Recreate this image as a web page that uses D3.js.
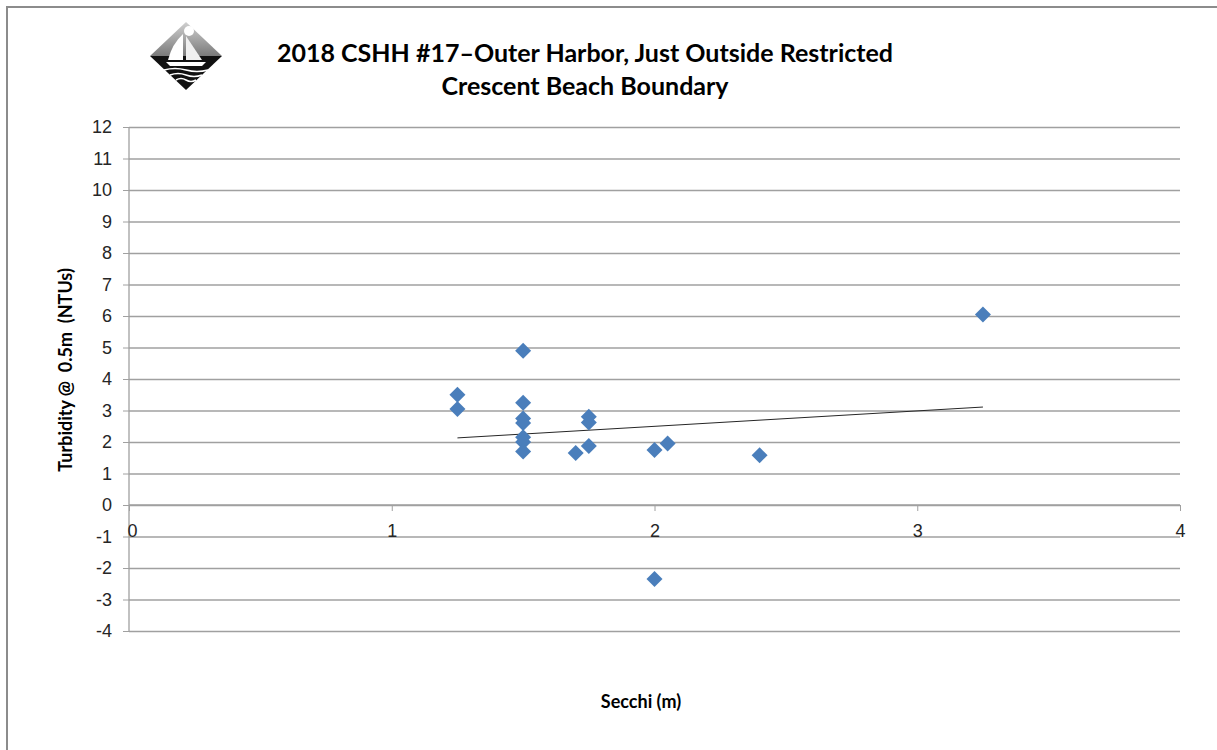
<!DOCTYPE html>
<html>
<head>
<meta charset="utf-8">
<script src="https://cdn.jsdelivr.net/npm/d3@7"></script>
<style>
  body { margin: 0; background: #fff; }
  svg { display: block; font-family: Lato, "Open Sans", sans-serif; }
</style>
</head>
<body>
<div id="chart"></div>
<script>
// secchi depth (m) and turbidity (NTU) readings
var secchi    = [1.25, 1.25, 1.5, 1.5, 1.5, 1.5, 1.5, 1.5, 1.5, 1.7, 1.75, 1.75, 1.75, 2.0, 2.05, 2.0, 2.4, 3.25];
var turbidity = [3.5, 3.05, 4.9, 3.25, 2.75, 2.6, 2.15, 2.0, 1.7, 1.65, 2.8, 2.62, 1.87, 1.75, 1.95, -2.35, 1.58, 6.05];
// linear trendline end points as drawn in the picture
var trendX = [1.25, 3.25];
var trendY = [2.13, 3.11];
var xTicks = [0, 1, 2, 3, 4];
var yTicks = [-4, -3, -2, -1, 0, 1, 2, 3, 4, 5, 6, 7, 8, 9, 10, 11, 12];
var titleLines = ["2018 CSHH #17\u2013Outer Harbor, Just Outside Restricted", "Crescent Beach Boundary"];

var w = 1217, h = 750;
var marginLeft = 129, marginTop = 127, plotW = 1180 - 129, plotH = 631 - 127;

var svg = d3.select("#chart").append("svg")
  .attr("width", w)
  .attr("height", h);

// outer chart border (only top and left show in the frame)
svg.append("path")
  .attr("d", "M7,750 L7,7 L1217,7")
  .attr("fill", "none")
  .attr("stroke", "#8c8c8c")
  .attr("stroke-width", 2);

var xScale = d3.scaleLinear().domain([0, 4]).range([0, plotW]);
var yScale = d3.scaleLinear().domain([-4, 12]).range([plotH, 0]);

var chartG = svg.append("g")
  .attr("transform", "translate(" + marginLeft + "," + marginTop + ")");

// horizontal gridlines
chartG.append("g")
  .attr("class", "gridline")
  .call(d3.axisLeft(yScale).tickValues(yTicks).tickSize(-plotW).tickFormat(""))
  .call(function(g) { g.select(".domain").remove(); })
  .selectAll("line")
  .style("stroke", "#a0a0a0")
  .style("stroke-width", 1.3);

// y axis
var yAxis = chartG.append("g")
  .call(d3.axisLeft(yScale).tickValues(yTicks).tickSize(6).tickPadding(11).tickFormat(d3.format("d")));
yAxis.select(".domain").attr("d", "M0," + plotH + "V0").style("stroke", "#a0a0a0").style("stroke-width", 1.3);
yAxis.selectAll("line").style("stroke", "#a0a0a0");
yAxis.selectAll("text")
  .style("font-size", "18px")
  .style("fill", "#262626")
  .text(function(d) { return d < 0 ? "-" + Math.abs(d) : d; });

// x axis sits on y = 0
var xAxis = chartG.append("g")
  .attr("transform", "translate(0," + yScale(0) + ")")
  .call(d3.axisBottom(xScale).tickValues(xTicks).tickSize(6).tickPadding(13).tickFormat(d3.format("d")));
xAxis.select(".domain").attr("d", "M0,0H" + plotW).style("stroke", "#a0a0a0").style("stroke-width", 1.3);
xAxis.selectAll("line").style("stroke", "#a0a0a0");
xAxis.selectAll("text")
  .attr("dx", function(d) { return d === 0 ? 3 : 0; })
  .style("font-size", "18px")
  .style("fill", "#262626");

// trendline
chartG.append("line")
  .attr("x1", xScale(trendX[0]))
  .attr("y1", yScale(trendY[0]))
  .attr("x2", xScale(trendX[1]))
  .attr("y2", yScale(trendY[1]))
  .style("stroke", "#262626")
  .style("stroke-width", 1);

// points
chartG.append("g").selectAll("path")
  .data(secchi)
  .enter().append("path")
  .attr("transform", function(d, i) { return "translate(" + xScale(d) + "," + yScale(turbidity[i]) + ")"; })
  .attr("d", "M0,-8 L8,0 L0,8 L-8,0 Z")
  .style("fill", "#4a7ebb");

// title
svg.append("text")
  .attr("text-anchor", "middle")
  .style("font-size", "25px")
  .style("font-weight", "bold")
  .style("fill", "#000")
  .selectAll("tspan")
  .data(titleLines)
  .enter().append("tspan")
  .attr("x", 585)
  .attr("y", function(d, i) { return 62 + i * 33; })
  .text(function(d) { return d; });

// axis titles
svg.append("text")
  .attr("transform", "translate(72,370) rotate(-90)")
  .attr("text-anchor", "middle")
  .style("font-size", "18px")
  .style("font-weight", "bold")
  .style("white-space", "pre")
  .attr("xml:space", "preserve")
  .text("Turbidity @  0.5m  (NTUs)");

svg.append("text")
  .attr("x", 641)
  .attr("y", 708)
  .attr("text-anchor", "middle")
  .style("font-size", "18px")
  .style("font-weight", "bold")
  .text("Secchi (m)");

// logo: diamond with a sailboat
var logo = svg.append("g").attr("transform", "translate(186,56)");
var grad = svg.append("defs").append("linearGradient")
  .attr("id", "sky").attr("x1", 0).attr("y1", 0).attr("x2", 0).attr("y2", 1);
grad.append("stop").attr("offset", "0%").attr("stop-color", "#d0d0d0");
grad.append("stop").attr("offset", "100%").attr("stop-color", "#7a7a7a");
logo.append("path").attr("d", "M0,-34 L36,0 L0,34 L-36,0 Z").style("fill", "#fff");
logo.append("path").attr("d", "M0,-34 L36,0 L-36,0 Z").style("fill", "url(#sky)");
logo.append("path").attr("d", "M-36,0 L36,0 L0,34 Z").style("fill", "#111");
logo.append("circle").attr("cx", 3).attr("cy", -25).attr("r", 5).style("fill", "#fff");
logo.append("path").attr("d", "M-3,-22 L-3,4 L-18,4 Q-14,-12 -3,-22 Z").style("fill", "#fff");
logo.append("path").attr("d", "M0,-20 L0,4 L16,4 Q8,-8 0,-20 Z").style("fill", "#f0f0f0");
logo.append("path").attr("d", "M-20,6 L20,6 L16,10 L-16,10 Z").style("fill", "#fff");
[14, 19, 24].forEach(function(yy, i) {
  var half = 22 - i * 6;
  logo.append("path")
    .attr("d", "M" + (-half) + "," + yy + " q" + (half / 2) + ",-3 " + half + ",0 t" + half + ",0")
    .style("fill", "none").style("stroke", "#fff").style("stroke-width", 1.5);
});
</script>
</body>
</html>
